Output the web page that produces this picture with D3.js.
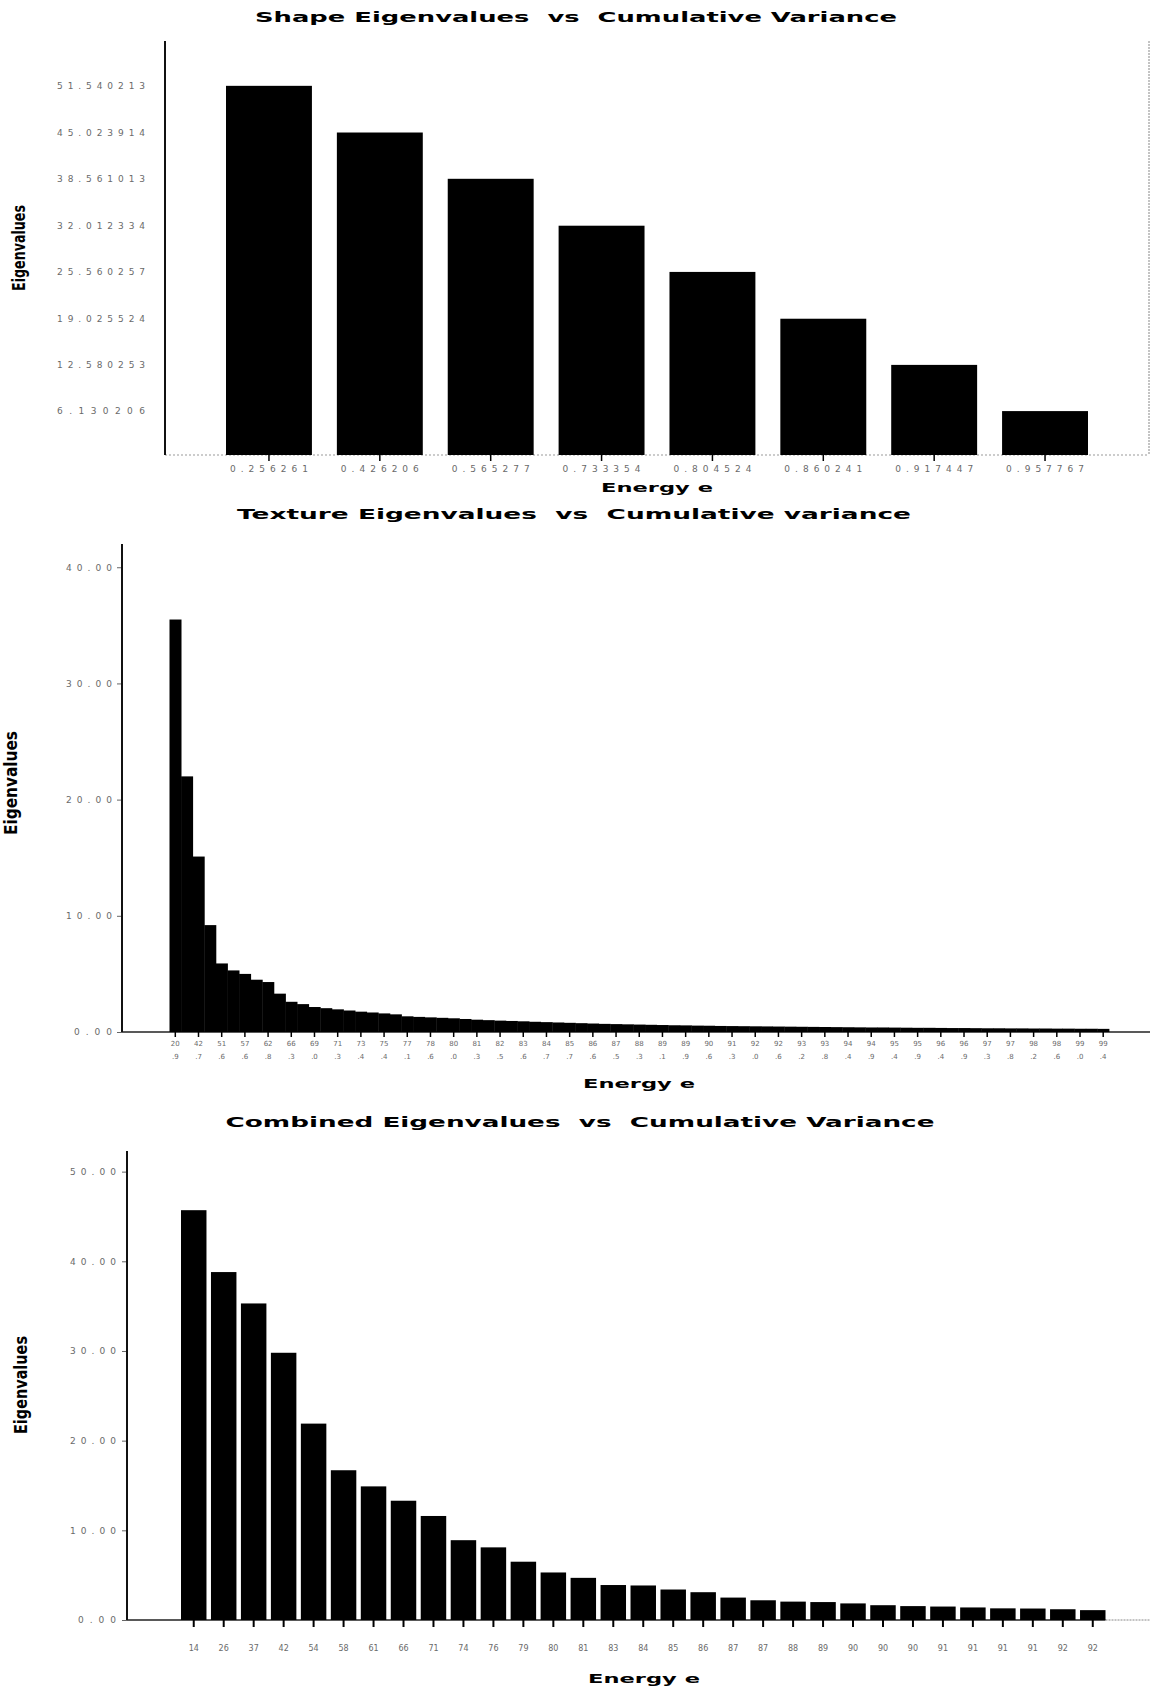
<!DOCTYPE html>
<html>
<head>
<meta charset="utf-8">
<script src="https://cdn.jsdelivr.net/npm/d3@7/dist/d3.min.js"></script>
<style>
  body { margin: 0; background: #fff; }
  svg { display: block; }
  .title { font-family: "DejaVu Sans", sans-serif; font-weight: bold; font-size: 14px; white-space: pre; }
  .xtitle { font-family: "DejaVu Sans", sans-serif; font-weight: bold; font-size: 13px; white-space: pre; }
  .ytitle { font-family: "Liberation Sans Narrow", "DejaVu Sans Condensed", sans-serif; font-weight: bold; font-size: 18px; }
  .tick text { font-family: "DejaVu Sans", sans-serif; fill: #6a6a6a; }
</style>
</head>
<body>
<script>
// ---- Shape model: eigenvalues and cumulative variance ----
const shapeVals = [51.540213, 45.023914, 38.561013, 32.012334, 25.560257, 19.025524, 12.580253, 6.130206];
const shapeLabels = ["0.256261", "0.426206", "0.565277", "0.733354", "0.804524", "0.860241", "0.917447", "0.957767"];

// ---- Texture model: eigenvalues (81 modes) and cumulative variance at every second mode ----
const texVals = [
  35.5, 22.0, 15.1, 9.2, 5.9, 5.3, 5.0, 4.5, 4.3, 3.3,
  2.6, 2.4, 2.15, 2.05, 1.95, 1.85, 1.75, 1.68, 1.6, 1.52,
  1.35, 1.3, 1.26, 1.22, 1.18, 1.12, 1.06, 1.02, 0.98, 0.95,
  0.92, 0.88, 0.85, 0.82, 0.79, 0.76, 0.73, 0.70, 0.68, 0.66,
  0.64, 0.62, 0.60, 0.58, 0.57, 0.55, 0.54, 0.52, 0.51, 0.50,
  0.49, 0.48, 0.47, 0.46, 0.45, 0.44, 0.43, 0.42, 0.41, 0.40,
  0.39, 0.39, 0.38, 0.37, 0.36, 0.36, 0.35, 0.34, 0.34, 0.33,
  0.32, 0.32, 0.31, 0.31, 0.30, 0.30, 0.29, 0.29, 0.28, 0.28, 0.27
];
const texLabels = ["20.9", "42.7", "51.6", "57.6", "62.8", "66.3", "69.0", "71.3", "73.4", "75.4",
  "77.1", "78.6", "80.0", "81.3", "82.5", "83.6", "84.7", "85.7", "86.6", "87.5",
  "88.3", "89.1", "89.9", "90.6", "91.3", "92.0", "92.6", "93.2", "93.8", "94.4",
  "94.9", "95.4", "95.9", "96.4", "96.9", "97.3", "97.8", "98.2", "98.6", "99.0", "99.4"];
const texYTicks = [0, 10, 20, 30, 40];

// ---- Combined model: eigenvalues (31 modes) and cumulative variance (%) ----
const combVals = [45.7, 38.8, 35.3, 29.8, 21.9, 16.7, 14.9, 13.3, 11.6, 8.9,
  8.1, 6.5, 5.3, 4.7, 3.9, 3.85, 3.4, 3.1, 2.5, 2.2,
  2.05, 2.0, 1.85, 1.65, 1.55, 1.5, 1.4, 1.3, 1.28, 1.2, 1.1];
const combLabels = ["14", "26", "37", "42", "54", "58", "61", "66", "71", "74",
  "76", "79", "80", "81", "83", "84", "85", "86", "87", "87",
  "88", "89", "90", "90", "90", "91", "91", "91", "91", "92", "92"];
const combYTicks = [0, 10, 20, 30, 40, 50];

const W = 1152, H = 1689;
const svg = d3.select("body").append("svg").attr("width", W).attr("height", H);

function title(text, cx, y, len, cls) {
  svg.append("text").attr("class", cls || "title")
    .attr("x", cx).attr("y", y).attr("text-anchor", "middle")
    .attr("textLength", len).attr("lengthAdjust", "spacingAndGlyphs")
    .text(text);
}
function yTitle(cx, cy, len) {
  svg.append("text").attr("class", "ytitle")
    .attr("transform", `translate(${cx},${cy}) rotate(-90)`)
    .attr("text-anchor", "middle").attr("dy", "0.35em")
    .attr("textLength", len).attr("lengthAdjust", "spacingAndGlyphs")
    .text("Eigenvalues");
}

// ================= Shape chart =================
{
  const x = d3.scaleBand().domain(d3.range(shapeVals.length)).range([226, 1088]).paddingInner(0.225).paddingOuter(0);
  const y = d3.scaleLinear().domain([0, 57.8]).range([455, 41]);
  const axX = 165, right = 1149;

  title("Shape Eigenvalues  vs  Cumulative Variance", 576, 22, 642);

  // baseline and right frame
  svg.append("line").attr("x1", axX).attr("x2", right).attr("y1", y(0)).attr("y2", y(0))
    .attr("stroke", "#999").attr("stroke-width", 1).attr("stroke-dasharray", "2,2");
  svg.append("line").attr("x1", right).attr("x2", right).attr("y1", y.range()[1]).attr("y2", y(0))
    .attr("stroke", "#888").attr("stroke-width", 1).attr("stroke-dasharray", "2,1");

  svg.append("g").selectAll("rect").data(shapeVals).join("rect")
    .attr("x", (d, i) => x(i)).attr("y", d => y(d))
    .attr("width", x.bandwidth()).attr("height", d => y(0) - y(d))
    .attr("fill", "#000");

  const gy = svg.append("g").attr("transform", `translate(${axX},0)`)
    .call(d3.axisLeft(y).tickValues(shapeVals).tickSize(0).tickPadding(20).tickFormat(d3.format(".6f")));
  gy.select(".domain").remove();
  gy.selectAll(".tick text").attr("font-size", 9).attr("textLength", 88).attr("lengthAdjust", "spacing");
  svg.append("line").attr("x1", axX).attr("x2", axX).attr("y1", y.range()[1]).attr("y2", y(0))
    .attr("stroke", "#111").attr("stroke-width", 2);

  const gx = svg.append("g").attr("transform", `translate(0,${y(0)})`)
    .call(d3.axisBottom(x).tickSize(6).tickPadding(5).tickFormat(i => shapeLabels[i]));
  gx.select(".domain").remove();
  gx.selectAll(".tick line").attr("stroke", "#000").attr("stroke-width", 1.5);
  gx.selectAll(".tick text").attr("font-size", 9).attr("textLength", 78).attr("lengthAdjust", "spacing");

  title("Energy e", 657, 492, 112, "xtitle");
  yTitle(19, 248, 86);
}

// ================= Texture chart =================
{
  const x = d3.scaleBand().domain(d3.range(texVals.length)).range([169.5, 1109]).padding(0);
  const y = d3.scaleLinear().domain([0, 42]).range([1032, 544]);
  const axX = 122, right = 1150;

  title("Texture Eigenvalues  vs  Cumulative variance", 574, 519, 674);

  svg.append("line").attr("x1", axX).attr("x2", right).attr("y1", y(0)).attr("y2", y(0))
    .attr("stroke", "#222").attr("stroke-width", 1.5);

  svg.append("g").selectAll("rect").data(texVals).join("rect")
    .attr("x", (d, i) => x(i)).attr("y", d => y(d))
    .attr("width", x.bandwidth() + 0.4).attr("height", d => y(0) - y(d))
    .attr("fill", "#000");

  const gy = svg.append("g").attr("transform", `translate(${axX},0)`)
    .call(d3.axisLeft(y).tickValues(texYTicks).tickSize(5).tickPadding(5).tickFormat(d3.format(".2f")));
  gy.select(".domain").remove();
  gy.selectAll(".tick line").attr("stroke", "#666");
  gy.selectAll(".tick text").attr("font-size", 9)
    .attr("textLength", d => d >= 10 ? 46 : 38).attr("lengthAdjust", "spacing");
  svg.append("line").attr("x1", axX).attr("x2", axX).attr("y1", y.range()[1]).attr("y2", y(0))
    .attr("stroke", "#111").attr("stroke-width", 2);

  const tickIdx = d3.range(texVals.length).filter(i => i % 2 === 0);
  const gx = svg.append("g").attr("transform", `translate(0,${y(0)})`)
    .call(d3.axisBottom(x).tickValues(tickIdx).tickSize(5).tickPadding(4).tickFormat(() => ""));
  gx.select(".domain").remove();
  gx.selectAll(".tick line").attr("stroke", "#000").attr("stroke-width", 1.5);
  gx.selectAll(".tick text").each(function (i) {
    const parts = texLabels[i / 2].split(".");
    const t = d3.select(this).attr("font-size", 7).attr("fill", "#8a8a8a");
    t.append("tspan").attr("x", 0).attr("dy", "0.71em").text(parts[0]);
    t.append("tspan").attr("x", 0).attr("dy", "1.9em").text("." + parts[1]);
  });

  title("Energy e", 639, 1088, 112, "xtitle");
  yTitle(11, 783, 104);
}

// ================= Combined chart =================
{
  const x = d3.scaleBand().domain(d3.range(combVals.length)).range([181, 1105.5]).paddingInner(0.15).paddingOuter(0);
  const y = d3.scaleLinear().domain([0, 52.3]).range([1620, 1151]);
  const axX = 127, right = 1150;
  const last = x(combVals.length - 1) + x.bandwidth();

  title("Combined Eigenvalues  vs  Cumulative Variance", 580, 1127, 709);

  svg.append("line").attr("x1", axX).attr("x2", last).attr("y1", y(0)).attr("y2", y(0))
    .attr("stroke", "#222").attr("stroke-width", 1.5);
  svg.append("line").attr("x1", last).attr("x2", right).attr("y1", y(0)).attr("y2", y(0))
    .attr("stroke", "#888").attr("stroke-width", 1).attr("stroke-dasharray", "2,1");

  svg.append("g").selectAll("rect").data(combVals).join("rect")
    .attr("x", (d, i) => x(i)).attr("y", d => y(d))
    .attr("width", x.bandwidth()).attr("height", d => y(0) - y(d))
    .attr("fill", "#000");

  const gy = svg.append("g").attr("transform", `translate(${axX},0)`)
    .call(d3.axisLeft(y).tickValues(combYTicks).tickSize(5).tickPadding(6).tickFormat(d3.format(".2f")));
  gy.select(".domain").remove();
  gy.selectAll(".tick line").attr("stroke", "#666");
  gy.selectAll(".tick text").attr("font-size", 9)
    .attr("textLength", d => d >= 10 ? 46 : 38).attr("lengthAdjust", "spacing");
  svg.append("line").attr("x1", axX).attr("x2", axX).attr("y1", y.range()[1]).attr("y2", y(0))
    .attr("stroke", "#111").attr("stroke-width", 2);

  const gx = svg.append("g").attr("transform", `translate(0,${y(0)})`)
    .call(d3.axisBottom(x).tickSize(7).tickPadding(18).tickFormat(i => combLabels[i]));
  gx.select(".domain").remove();
  gx.selectAll(".tick line").attr("stroke", "#000").attr("stroke-width", 2);
  gx.selectAll(".tick text").attr("font-size", 8).attr("fill", "#555");

  title("Energy e", 644, 1683, 112, "xtitle");
  yTitle(21, 1385, 98);
}
</script>
</body>
</html>
